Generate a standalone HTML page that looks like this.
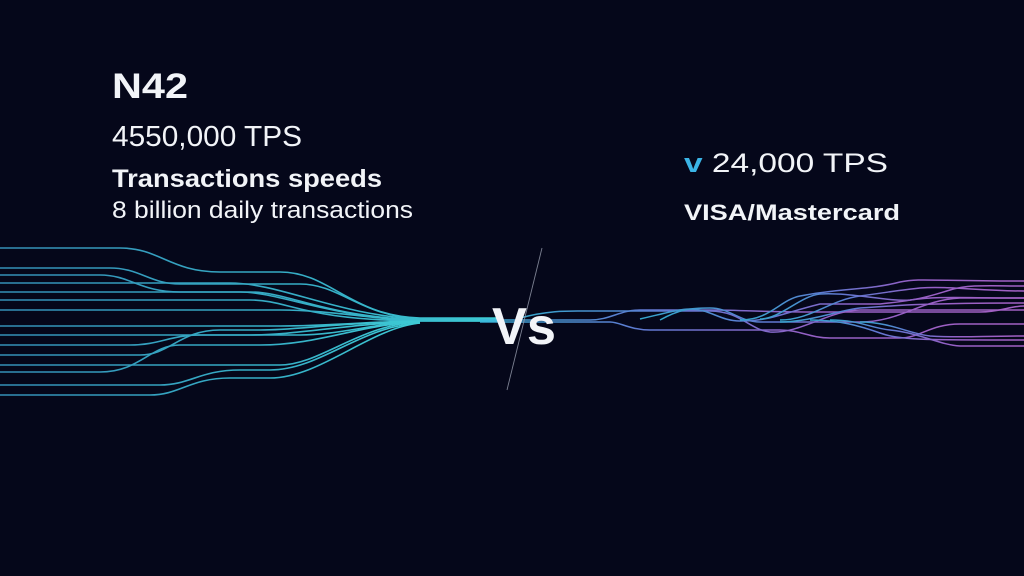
<!DOCTYPE html>
<html><head><style>
html,body{margin:0;padding:0;background:#05071a;}
svg{display:block}
text{font-family:"Liberation Sans",sans-serif;fill:#f2f4f8}
</style></head><body>
<svg width="1024" height="576" viewBox="0 0 1024 576" xmlns="http://www.w3.org/2000/svg">
<defs>
<linearGradient id="lg" x1="0" x2="1"><stop offset="0" stop-color="#3a9ec8"/><stop offset="0.7" stop-color="#3cc6dc"/><stop offset="1" stop-color="#45e0ea"/></linearGradient>
<linearGradient id="rg" x1="0" x2="1"><stop offset="0" stop-color="#3ab8e0"/><stop offset="0.3" stop-color="#6a86e6"/><stop offset="0.6" stop-color="#a46ad8"/><stop offset="1" stop-color="#b46ad6"/></linearGradient>
</defs>
<rect width="1024" height="576" fill="#05071a"/>
<g fill="none" stroke="url(#lg)" stroke-width="1.6" opacity="0.9">
<path d="M0 248 H120 C160 248 170 272 220 272 H280 C330 272 350 316 420 318 H500"/>
<path d="M0 268 H110 C140 268 150 284 180 284 H300 C340 284 360 316 420 319 H500"/>
<path d="M0 275 H100 C130 275 140 292 180 292 H250 C290 292 320 316 420 320 H500"/>
<path d="M0 283 H230 C280 283 340 316 420 319 H500"/>
<path d="M0 292 H240 C280 292 330 318 420 320 H500"/>
<path d="M0 300 H250 C290 300 300 320 420 321 H500"/>
<path d="M0 310 H280 C330 310 380 320 420 321 H500"/>
<path d="M0 318 H500"/>
<path d="M0 326 H280 C330 326 380 321 420 321"/>
<path d="M0 335 H300 C340 335 380 322 420 322"/>
<path d="M0 345 H130 C160 345 170 335 200 335 H250 C300 335 350 323 420 322"/>
<path d="M0 355 H140 C170 355 180 330 220 330 H260 C300 330 340 322 420 322"/>
<path d="M0 365 H280 C320 365 360 324 420 322"/>
<path d="M0 372 H100 C140 372 150 345 180 345 H260 C320 345 360 324 420 322"/>
<path d="M0 385 H160 C190 385 200 370 240 370 H270 C320 370 360 326 420 323"/>
<path d="M0 395 H150 C180 395 190 378 230 378 H270 C320 378 370 328 420 323"/>
</g>
<g fill="none" stroke="url(#rg)" stroke-width="1.5" opacity="0.9" transform="translate(480,0)">
<path d="M0 318 H544"/>
<path d="M0 320 H110 C130 320 140 310 160 310 H230 C260 310 280 312 340 312 H500 C520 312 530 306 544 306"/>
<path d="M0 322 H130 C140 322 150 330 170 330 H300 C320 330 330 338 350 338 H420 C440 338 450 324 480 324 H544"/>
<path d="M40 318 C70 310 90 311 105 311 H230 C260 311 270 330 290 332 C320 334 350 310 380 310 H544"/>
<path d="M160 319 C190 312 200 309 210 309 C230 309 240 321 260 321 C290 321 300 314 340 304 H400 C440 300 450 296 470 290 C490 284 510 286 544 286"/>
<path d="M180 320 C200 309 210 308 230 308 C250 308 260 322 280 322 H380 C420 322 440 300 480 298 H544"/>
<path d="M260 320 C290 320 300 300 320 296 C360 288 390 290 420 282 C440 278 450 281 544 281"/>
<path d="M300 320 C330 320 350 300 380 296 C410 292 420 290 440 288 C470 286 500 291 544 291"/>
<path d="M330 320 C360 320 380 326 400 333 C420 340 440 340 544 340"/>
<path d="M350 320 C380 320 390 328 410 330 C440 333 460 345 480 346 H544"/>
<path d="M300 322 C330 322 360 310 380 308 C410 306 440 303 544 303"/>
<path d="M380 322 C410 322 430 334 450 336 C480 338 500 336 544 336"/>
<path d="M280 319 C300 319 320 296 340 294 C370 292 410 302 430 300 C460 296 480 298 544 298"/>
</g>
<line x1="542" y1="248" x2="507" y2="390" stroke="#9aa0b0" stroke-width="0.9" opacity="0.8"/>
<text x="492" y="344" font-size="52" font-weight="bold" textLength="64" lengthAdjust="spacingAndGlyphs">Vs</text>
<text x="112" y="98" font-size="35" font-weight="bold" textLength="76" lengthAdjust="spacingAndGlyphs">N42</text>
<text x="112" y="146" font-size="29" textLength="190" lengthAdjust="spacingAndGlyphs">4550,000 TPS</text>
<text x="112" y="187" font-size="25" font-weight="bold" textLength="270" lengthAdjust="spacingAndGlyphs">Transactions speeds</text>
<text x="112" y="218" font-size="24" textLength="301" lengthAdjust="spacingAndGlyphs">8 billion daily transactions</text>
<text x="684" y="172" font-size="27" textLength="204" lengthAdjust="spacingAndGlyphs"><tspan style="fill:#3bb4e6;font-weight:bold">v</tspan> 24,000 TPS</text>
<text x="684" y="220" font-size="22" font-weight="bold" textLength="216" lengthAdjust="spacingAndGlyphs">VISA/Mastercard</text>
</svg>
</body></html>
